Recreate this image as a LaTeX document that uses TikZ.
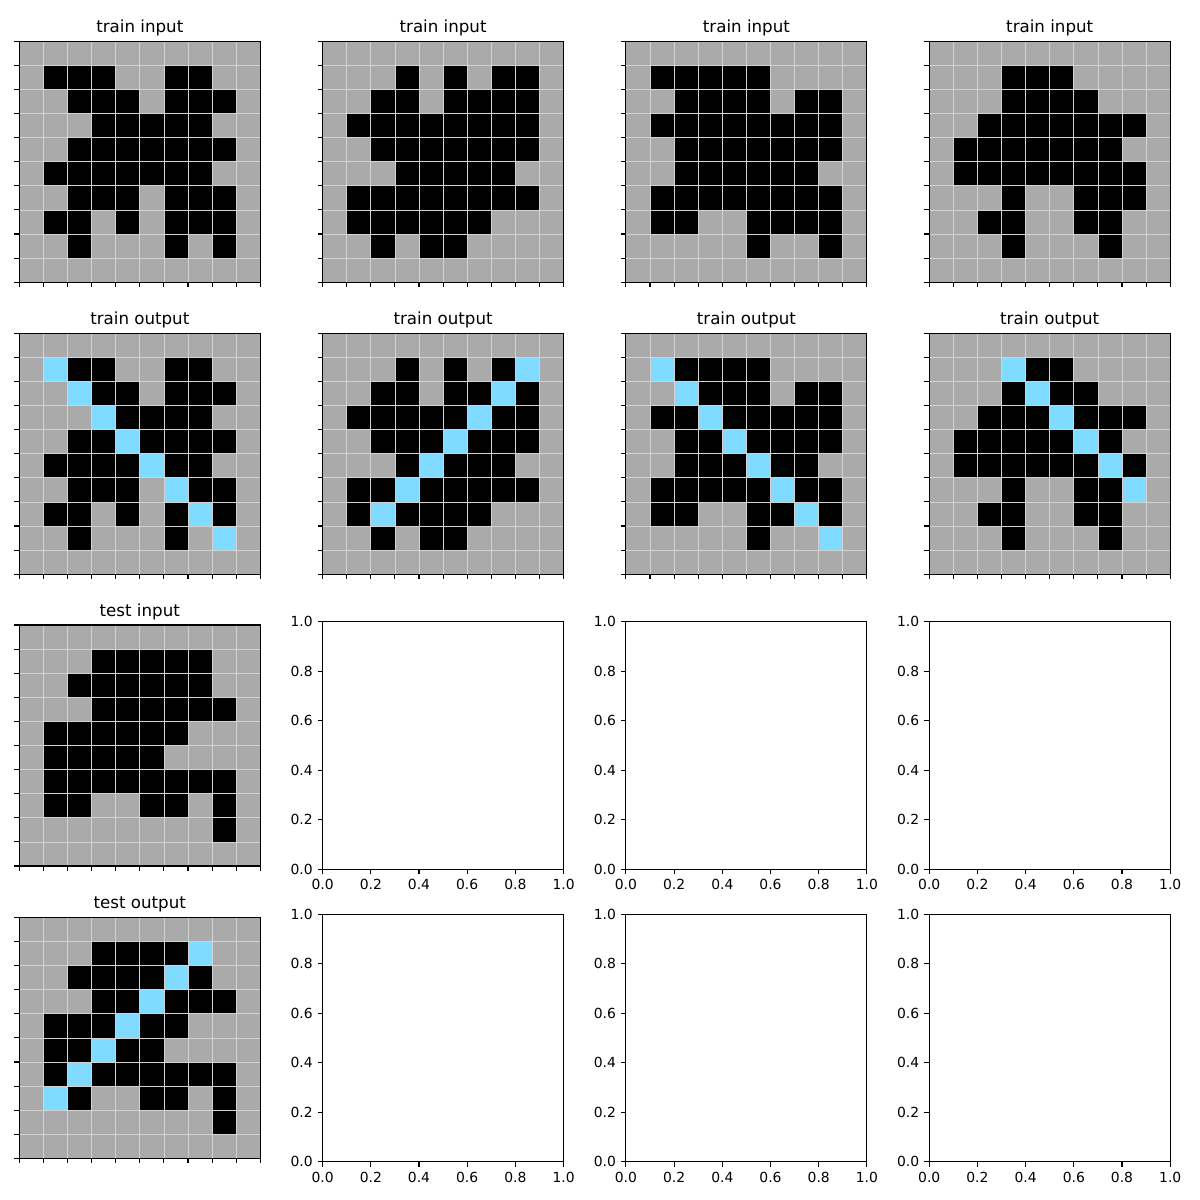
\documentclass[tikz,border=0pt]{standalone}
\usepackage{fontspec}
\setmainfont{DejaVu Sans}
\definecolor{arcgray}{HTML}{AAAAAA}
\definecolor{arcblue}{HTML}{7FDBFF}
\definecolor{gridgray}{HTML}{D3D3D3}
\tikzset{
  gridln/.style={gridgray, line width=0.5pt},
  spine/.style={black, line width=0.8pt},
  tickln/.style={black, line width=0.8pt},
  ttl/.style={anchor=base, inner sep=0pt, font=\fontsize{12}{14}\selectfont},
  ticklbl/.style={inner sep=0pt, font=\fontsize{10}{12}\selectfont}
}
\newcommand\arcgrid[6]{% #1 left, #2 top, #3 black rows, #4 blue cells, #5 title, #6 name
  \node[ttl] (#6-title) at (#1+120.5,#2-8.5) {#5};
  \begin{scope}[shift={(#1,#2)}]
    \fill[arcgray] (0,0) rectangle (241,241);
    \foreach \r/\cs in {#3} { \foreach \c in \cs { \fill[black] (\c*24.1,\r*24.1) rectangle ++(24.1,24.1); } }
    \def\bluelist{#4}
    \ifx\bluelist\empty\else
      \foreach \c/\r in {#4} { \fill[arcblue] (\c*24.1,\r*24.1) rectangle ++(24.1,24.1); }
    \fi
    \foreach \i in {1,...,9} {
      \draw[gridln] (\i*24.1,0) -- (\i*24.1,241);
      \draw[gridln] (0,\i*24.1) -- (241,\i*24.1);
    }
    \draw[spine] (0,0) rectangle (241,241);
    \foreach \i in {0,...,10} {
      \draw[tickln] (\i*24.1,241) -- ++(0,4.86);
      \draw[tickln] (0,\i*24.1) -- ++(-4.86,0);
    }
  \end{scope}}
\newcommand\emptyax[3]{% #1 left, #2 box top, #3 name
  \begin{scope}[shift={(#1,#2)}]
    \draw[spine] (0,0) rectangle (241,247.6);
    \foreach \k/\t in {0/0.0,1/0.2,2/0.4,3/0.6,4/0.8,5/1.0} {
      \draw[tickln] (\k*48.2,247.6) -- ++(0,4.86);
      \draw[tickln] (0,247.6-\k*49.52) -- ++(-4.86,0);
      \node[ticklbl, anchor=north] (#3-x\k) at (\k*48.2,247.6+9.7) {\t};
      \node[ticklbl, anchor=east] (#3-y\k) at (-9.7,247.6-\k*49.52) {\t};
    }
  \end{scope}}
\begin{document}
\begin{tikzpicture}[x=0.72pt,y=-0.72pt]
\fill[white] (0,0) rectangle (1200,1200);
\useasboundingbox (0,0) rectangle (1200,1200);

% ---------- row 1: train inputs ----------
\arcgrid{19.3}{41.2}{1/{1,2,3,6,7}, 2/{2,3,4,6,7,8}, 3/{3,4,5,6,7}, 4/{2,3,4,5,6,7,8}, 5/{1,2,3,4,5,6,7}, 6/{2,3,4,6,7,8}, 7/{1,2,4,6,7,8}, 8/{2,6,8}}{}{train input}{g11}
\arcgrid{322.6}{41.2}{1/{3,5,7,8}, 2/{2,3,5,6,7,8}, 3/{1,2,3,4,5,6,7,8}, 4/{2,3,4,5,6,7,8}, 5/{3,4,5,6,7}, 6/{1,2,3,4,5,6,7,8}, 7/{1,2,3,4,5,6}, 8/{2,4,5}}{}{train input}{g12}
\arcgrid{625.9}{41.2}{1/{1,2,3,4,5}, 2/{2,3,4,5,7,8}, 3/{1,2,3,4,5,6,7,8}, 4/{2,3,4,5,6,7,8}, 5/{2,3,4,5,6,7}, 6/{1,2,3,4,5,6,7,8}, 7/{1,2,5,6,7,8}, 8/{5,8}}{}{train input}{g13}
\arcgrid{929.2}{41.2}{1/{3,4,5}, 2/{3,4,5,6}, 3/{2,3,4,5,6,7,8}, 4/{1,2,3,4,5,6,7}, 5/{1,2,3,4,5,6,7,8}, 6/{3,6,7,8}, 7/{2,3,6,7}, 8/{3,7}}{}{train input}{g14}

% ---------- row 2: train outputs ----------
\arcgrid{19.3}{333.2}{1/{1,2,3,6,7}, 2/{2,3,4,6,7,8}, 3/{3,4,5,6,7}, 4/{2,3,4,5,6,7,8}, 5/{1,2,3,4,5,6,7}, 6/{2,3,4,6,7,8}, 7/{1,2,4,6,7,8}, 8/{2,6,8}}{1/1,2/2,3/3,4/4,5/5,6/6,7/7,8/8}{train output}{g21}
\arcgrid{322.6}{333.2}{1/{3,5,7,8}, 2/{2,3,5,6,7,8}, 3/{1,2,3,4,5,6,7,8}, 4/{2,3,4,5,6,7,8}, 5/{3,4,5,6,7}, 6/{1,2,3,4,5,6,7,8}, 7/{1,2,3,4,5,6}, 8/{2,4,5}}{8/1,7/2,6/3,5/4,4/5,3/6,2/7}{train output}{g22}
\arcgrid{625.9}{333.2}{1/{1,2,3,4,5}, 2/{2,3,4,5,7,8}, 3/{1,2,3,4,5,6,7,8}, 4/{2,3,4,5,6,7,8}, 5/{2,3,4,5,6,7}, 6/{1,2,3,4,5,6,7,8}, 7/{1,2,5,6,7,8}, 8/{5,8}}{1/1,2/2,3/3,4/4,5/5,6/6,7/7,8/8}{train output}{g23}
\arcgrid{929.2}{333.2}{1/{3,4,5}, 2/{3,4,5,6}, 3/{2,3,4,5,6,7,8}, 4/{1,2,3,4,5,6,7}, 5/{1,2,3,4,5,6,7,8}, 6/{3,6,7,8}, 7/{2,3,6,7}, 8/{3,7}}{3/1,4/2,5/3,6/4,7/5,8/6}{train output}{g24}

% ---------- row 3 ----------
\arcgrid{19.3}{625.0}{1/{3,4,5,6,7}, 2/{2,3,4,5,6,7}, 3/{3,4,5,6,7,8}, 4/{1,2,3,4,5,6}, 5/{1,2,3,4,5}, 6/{1,2,3,4,5,6,7,8}, 7/{1,2,5,6,8}, 8/{8}}{}{test input}{g31}
\emptyax{322.6}{621.7}{e32}
\emptyax{625.9}{621.7}{e33}
\emptyax{929.2}{621.7}{e34}

% ---------- row 4 ----------
\arcgrid{19.3}{917.4}{1/{3,4,5,6,7}, 2/{2,3,4,5,6,7}, 3/{3,4,5,6,7,8}, 4/{1,2,3,4,5,6}, 5/{1,2,3,4,5}, 6/{1,2,3,4,5,6,7,8}, 7/{1,2,5,6,8}, 8/{8}}{7/1,6/2,5/3,4/4,3/5,2/6,1/7}{test output}{g41}
\emptyax{322.6}{914.1}{e42}
\emptyax{625.9}{914.1}{e43}
\emptyax{929.2}{914.1}{e44}
\end{tikzpicture}
\end{document}
